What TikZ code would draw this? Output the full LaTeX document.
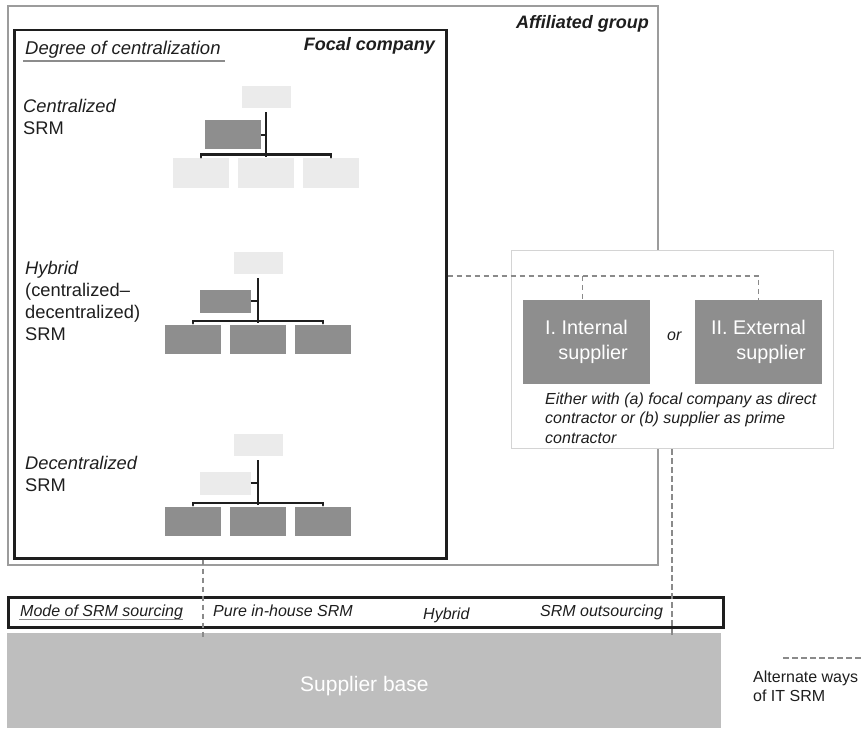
\documentclass[tikz,border=0pt]{standalone}
\usepackage{fontspec}
\setmainfont{Liberation Sans}
\usetikzlibrary{calc}

\definecolor{ink}{HTML}{1E1E1E}
\definecolor{lightbox}{HTML}{EBEBEB}
\definecolor{darkbox}{HTML}{8E8E8E}
\definecolor{basegray}{HTML}{BEBEBE}
\definecolor{groupline}{HTML}{9C9C9C}
\definecolor{altline}{HTML}{8A8A8A}
\definecolor{panelline}{HTML}{D4D4D4}
\definecolor{ulinegray}{HTML}{8C8C8C}

\newcommand\fs[2]{\fontsize{#1}{#2}\selectfont}

\tikzset{
  orgbox/.style={inner sep=0pt, minimum width=56pt, minimum height=29pt},
  link/.style={draw=ink, line width=2.6pt},
  altway/.style={draw=altline, line width=1.4pt, dash pattern=on 5.5pt off 3.5pt},
  lbl/.style={inner sep=0pt, text=ink, anchor=base west},
  rlbl/.style={inner sep=0pt, text=ink, anchor=base east},
  sidelbl/.style={lbl, align=left, font=\fs{18.3}{22}},
  modelbl/.style={lbl, font=\fs{16}{19}\itshape},
  titlelbl/.style={rlbl, font=\fs{18}{21}\bfseries\itshape},
  supbox/.style={fill=darkbox, inner sep=0pt, minimum width=127pt, minimum height=84pt,
                 text=white, align=right, font=\fs{19.8}{25}},
  uline/.style={draw=ulinegray, line width=1.1pt},
}

% one organisation chart: head, staff unit and three units below
% #1 prefix, #2 head position, #3 head fill, #4 staff fill, #5 unit fill, #6 staff size
\newcommand\orgchart[6]{%
  \begin{scope}[shift={#2}]
    \node[orgbox, fill=#3, minimum width=49pt, minimum height=22pt] (#1top) at (0,0) {};
    \node[orgbox, fill=#4, #6] (#1mid) at (-33,38) {};
    \node[orgbox, fill=#5] (#1a) at (-65,76) {};
    \node[orgbox, fill=#5] (#1b) at (0,76) {};
    \node[orgbox, fill=#5] (#1c) at (65,76) {};
    \draw[link] ([yshift=-4pt]#1top.south) -- ([yshift=1pt]#1b.north);
    \draw[link, line cap=round] ([yshift=1pt]#1a.north) -- ([yshift=3.5pt]#1a.north)
      -- ([yshift=3.5pt]#1c.north) -- ([yshift=1pt]#1c.north);
    \draw[link] (#1mid.east) -- (#1mid.east -| #1top.south);
  \end{scope}}

\begin{document}
\begin{tikzpicture}[x=1pt, y=-1pt]
  \useasboundingbox (0,0) rectangle (861,730);

  % affiliated group and focal company
  \node[draw=groupline, line width=2pt, inner sep=0pt, minimum width=650pt, minimum height=559pt,
        anchor=north west] (group) at (7,5) {};
  \node[titlelbl] (grouptitle) at (649,29) {Affiliated group};
  \node[draw=ink, line width=2.5pt, inner sep=0pt, minimum width=432pt, minimum height=528pt,
        anchor=north west] (focal) at (13,29) {};
  \node[titlelbl] (focaltitle) at (435,51) {Focal company};

  \node[lbl, font=\fs{18.5}{22}\itshape] (degree) at (25,55) {Degree of centralization};
  \draw[uline] (23,61) -- ([xshift=4pt]degree.base east |- 0,61);

  % degrees of centralization (multi-line labels are placed by their last baseline)
  \node[sidelbl] (cen) at (23,135) {\textit{Centralized}\\SRM};
  \orgchart{c}{(266,97)}{lightbox}{darkbox}{lightbox}{minimum width=56pt, minimum height=29pt}

  \node[sidelbl] (hyb) at (25,340) {\textit{Hybrid}\\(centralized–\\decentralized)\\SRM};
  \orgchart{h}{(258,263)}{lightbox}{darkbox}{darkbox}{minimum width=51pt, minimum height=23pt}

  \node[sidelbl] (dec) at (25,491) {\textit{Decentralized}\\SRM};
  \orgchart{d}{(258,445)}{lightbox}{lightbox}{darkbox}{minimum width=51pt, minimum height=23pt}

  % IT SRM suppliers
  \node[draw=panelline, fill=white, line width=1pt, inner sep=0pt, minimum width=322pt,
        minimum height=198pt, anchor=north west] (sup) at (511,250) {};
  \node[supbox] (int) at (586.5,342) {I. Internal\\supplier};
  \node[supbox] (ext) at (758.5,342) {II. External\\supplier};
  \node[lbl, font=\fs{16}{19}\itshape] (or) at (667,340) {or};
  \node[lbl, align=left, font=\fs{16}{19.2}\itshape] (either) at (545,443)
    {Either with (a) focal company as direct\\contractor or (b) supplier as prime\\contractor};

  % mode of sourcing and supplier base
  \node[draw=ink, line width=2.5pt, inner sep=0pt, minimum width=715pt, minimum height=30pt,
        anchor=north west] (mode) at (7,596) {};
  \node[fill=basegray, inner sep=0pt, minimum width=714pt, minimum height=95pt,
        anchor=north west] (base) at (7,633) {};
  \node[inner sep=0pt, anchor=base west, text=white, font=\fs{21}{25}] (basetxt) at (300,691) {Supplier base};

  \node[modelbl] (modetxt) at (20,616) {Mode of SRM sourcing};
  \draw[uline] (19,619.5) -- (modetxt.base east |- 0,619.5);
  \node[modelbl] (inhouse) at (213,616) {Pure in-house SRM};
  \node[modelbl] (hybmode) at (423,619) {Hybrid};
  \node[modelbl] (outs) at (540,616) {SRM outsourcing};

  % alternate ways of IT SRM
  \coordinate (bus) at ([yshift=24pt]ext.north);
  \draw[altway] (focal.east |- bus) -- (bus) -- (ext.north);
  \draw[altway] ([xshift=-4pt]int.north |- bus) -- ([xshift=-4pt]int.north);
  \coordinate (inh) at (203,637);
  \draw[altway] (inh |- focal.south) -- (inh);
  \coordinate (outsrc) at (672,636);
  \draw[altway] (outsrc |- sup.south) -- (outsrc);

  % legend
  \coordinate (legA) at (783,658);
  \coordinate (legB) at (861,658);
  \draw[altway] (legA) -- (legB);
  \node[lbl, align=left, font=\fs{16}{19}] (legtxt) at (753,701) {Alternate ways\\of IT SRM};
\end{tikzpicture}
\end{document}
